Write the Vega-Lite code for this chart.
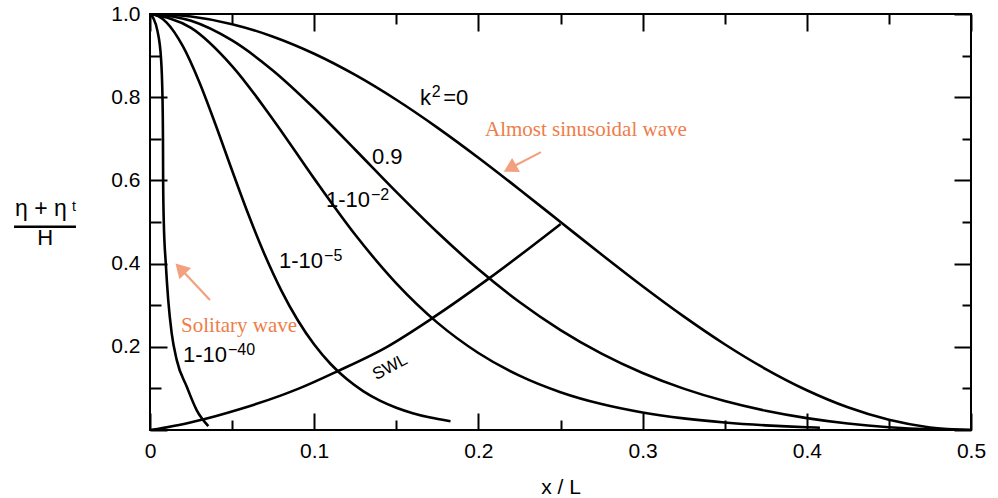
{
  "$schema": "https://vega.github.io/schema/vega-lite/v6.json",
  "autosize": {"type": "none"},
  "width": 821,
  "height": 416,
  "padding": {"left": 150, "top": 14, "right": 27, "bottom": 68},
  "background": "white",
  "config": {
    "view": {"stroke": "black", "strokeWidth": 2},
    "text": {"font": "Liberation Sans"}
  },
  "datasets": {
    "curves": [
      {"curve": "k0", "x": 0, "y": 1}, {"curve": "k0", "x": 0.025, "y": 0.99384}, {"curve": "k0", "x": 0.05, "y": 0.97553}, {"curve": "k0", "x": 0.075, "y": 0.9455}, {"curve": "k0", "x": 0.1, "y": 0.90451}, {"curve": "k0", "x": 0.125, "y": 0.85355}, {"curve": "k0", "x": 0.15, "y": 0.79389}, {"curve": "k0", "x": 0.175, "y": 0.727}, {"curve": "k0", "x": 0.2, "y": 0.65451}, {"curve": "k0", "x": 0.225, "y": 0.57822}, {"curve": "k0", "x": 0.25, "y": 0.5}, {"curve": "k0", "x": 0.275, "y": 0.42178}, {"curve": "k0", "x": 0.3, "y": 0.34549}, {"curve": "k0", "x": 0.325, "y": 0.273}, {"curve": "k0", "x": 0.35, "y": 0.20611}, {"curve": "k0", "x": 0.375, "y": 0.14645}, {"curve": "k0", "x": 0.4, "y": 0.09549}, {"curve": "k0", "x": 0.425, "y": 0.0545}, {"curve": "k0", "x": 0.45, "y": 0.02447}, {"curve": "k0", "x": 0.475, "y": 0.00616}, {"curve": "k0", "x": 0.5, "y": 0},
      {"curve": "k09", "x": 0, "y": 1}, {"curve": "k09", "x": 0.025, "y": 0.98367}, {"curve": "k09", "x": 0.05, "y": 0.93637}, {"curve": "k09", "x": 0.075, "y": 0.86369}, {"curve": "k09", "x": 0.1, "y": 0.77334}, {"curve": "k09", "x": 0.125, "y": 0.67371}, {"curve": "k09", "x": 0.15, "y": 0.57238}, {"curve": "k09", "x": 0.175, "y": 0.47526}, {"curve": "k09", "x": 0.2, "y": 0.38632}, {"curve": "k09", "x": 0.225, "y": 0.30772}, {"curve": "k09", "x": 0.25, "y": 0.24025}, {"curve": "k09", "x": 0.275, "y": 0.18365}, {"curve": "k09", "x": 0.3, "y": 0.13707}, {"curve": "k09", "x": 0.325, "y": 0.09943}, {"curve": "k09", "x": 0.35, "y": 0.06952}, {"curve": "k09", "x": 0.375, "y": 0.04621}, {"curve": "k09", "x": 0.4, "y": 0.02849}, {"curve": "k09", "x": 0.425, "y": 0.01556}, {"curve": "k09", "x": 0.45, "y": 0.00676}, {"curve": "k09", "x": 0.475, "y": 0.00167}, {"curve": "k09", "x": 0.5, "y": 0},
      {"curve": "k099", "x": 0, "y": 1}, {"curve": "k099", "x": 0.025, "y": 0.9666}, {"curve": "k099", "x": 0.05, "y": 0.87495}, {"curve": "k099", "x": 0.075, "y": 0.74603}, {"curve": "k099", "x": 0.1, "y": 0.60427}, {"curve": "k099", "x": 0.125, "y": 0.46935}, {"curve": "k099", "x": 0.15, "y": 0.35259}, {"curve": "k099", "x": 0.175, "y": 0.2581}, {"curve": "k099", "x": 0.2, "y": 0.18515}, {"curve": "k099", "x": 0.225, "y": 0.13066}, {"curve": "k099", "x": 0.25, "y": 0.09091}, {"curve": "k099", "x": 0.275, "y": 0.06239}, {"curve": "k099", "x": 0.3, "y": 0.04216}, {"curve": "k099", "x": 0.325, "y": 0.02794}, {"curve": "k099", "x": 0.35, "y": 0.01804}, {"curve": "k099", "x": 0.375, "y": 0.01118}, {"curve": "k099", "x": 0.4, "y": 0.00651}, {"curve": "k099", "x": 0.408, "y": 0.0055},
      {"curve": "k5", "x": 0, "y": 1}, {"curve": "k5", "x": 0.005, "y": 0.99491}, {"curve": "k5", "x": 0.01, "y": 0.97987}, {"curve": "k5", "x": 0.02, "y": 0.92259}, {"curve": "k5", "x": 0.03, "y": 0.83668}, {"curve": "k5", "x": 0.04, "y": 0.7333}, {"curve": "k5", "x": 0.05, "y": 0.62377}, {"curve": "k5", "x": 0.06, "y": 0.51729}, {"curve": "k5", "x": 0.07, "y": 0.41998}, {"curve": "k5", "x": 0.08, "y": 0.33516}, {"curve": "k5", "x": 0.09, "y": 0.26386}, {"curve": "k5", "x": 0.1, "y": 0.20545}, {"curve": "k5", "x": 0.11, "y": 0.15865}, {"curve": "k5", "x": 0.12, "y": 0.12171}, {"curve": "k5", "x": 0.13, "y": 0.0929}, {"curve": "k5", "x": 0.14, "y": 0.07066}, {"curve": "k5", "x": 0.15, "y": 0.05357}, {"curve": "k5", "x": 0.16, "y": 0.04053}, {"curve": "k5", "x": 0.17, "y": 0.03061}, {"curve": "k5", "x": 0.183, "y": 0.02122},
      {"curve": "k40", "x": 0, "y": 1}, {"curve": "k40", "x": 0.002, "y": 0.99}, {"curve": "k40", "x": 0.0045, "y": 0.96}, {"curve": "k40", "x": 0.0067, "y": 0.894}, {"curve": "k40", "x": 0.0076, "y": 0.8}, {"curve": "k40", "x": 0.0079, "y": 0.7}, {"curve": "k40", "x": 0.008, "y": 0.601}, {"curve": "k40", "x": 0.0084, "y": 0.5}, {"curve": "k40", "x": 0.0096, "y": 0.401}, {"curve": "k40", "x": 0.0111, "y": 0.3125}, {"curve": "k40", "x": 0.0132, "y": 0.233}, {"curve": "k40", "x": 0.0163, "y": 0.168}, {"curve": "k40", "x": 0.0224, "y": 0.104}, {"curve": "k40", "x": 0.0284, "y": 0.048}, {"curve": "k40", "x": 0.0355, "y": 0.0096},
      {"curve": "swl", "x": 0, "y": 0}, {"curve": "swl", "x": 0.00207, "y": 0.001}, {"curve": "swl", "x": 0.015, "y": 0.01}, {"curve": "swl", "x": 0.0276, "y": 0.0211}, {"curve": "swl", "x": 0.0398, "y": 0.0333}, {"curve": "swl", "x": 0.0545, "y": 0.05}, {"curve": "swl", "x": 0.0799, "y": 0.0833}, {"curve": "swl", "x": 0.0909, "y": 0.1}, {"curve": "swl", "x": 0.1143, "y": 0.1415}, {"curve": "swl", "x": 0.1444, "y": 0.2}, {"curve": "swl", "x": 0.1715, "y": 0.2676}, {"curve": "swl", "x": 0.2067, "y": 0.365}, {"curve": "swl", "x": 0.25, "y": 0.495}
    ],
    "curveLabels": [
      {"x": 0.1644, "y": 0.798, "text": "k"},
      {"x": 0.1786, "y": 0.798, "text": "=0"},
      {"x": 0.1352, "y": 0.656, "text": "0.9"},
      {"x": 0.1072, "y": 0.553, "text": "1-10"},
      {"x": 0.0786, "y": 0.406, "text": "1-10"},
      {"x": 0.0201, "y": 0.18, "text": "1-10"}
    ],
    "curveSups": [
      {"x": 0.1716, "y": 0.812, "text": "2"},
      {"x": 0.1346, "y": 0.565, "text": "−2"},
      {"x": 0.106, "y": 0.418, "text": "−5"},
      {"x": 0.0475, "y": 0.192, "text": "−40"}
    ],
    "swlLabel": [{"x": 0.1462, "y": 0.151, "text": "SWL"}],
    "notes": [
      {"x": 0.204, "y": 0.721, "text": "Almost sinusoidal wave"},
      {"x": 0.0189, "y": 0.25, "text": "Solitary wave"}
    ],
    "arrows": [
      {"x": 0.2381, "y": 0.668, "x2": 0.2192, "y2": 0.629, "angle": 241},
      {"x": 0.0365, "y": 0.3125, "x2": 0.0185, "y2": 0.388, "angle": 316}
    ],
    "ytitleTop": [{"x": -0.0822, "y": 0.531, "text": "η + η"}],
    "ytitleT": [{"x": -0.0475, "y": 0.537, "text": "t"}],
    "ytitleH": [{"x": -0.0639, "y": 0.4615, "text": "H"}],
    "ytitleBar": [{"x": -0.0828, "x2": -0.0451, "y": 0.4887}]
  },
  "layer": [
    {
      "data": {"name": "curves"},
      "mark": {"type": "line", "color": "black", "strokeWidth": 2.6, "interpolate": "monotone", "clip": true},
      "encoding": {
        "x": {
          "field": "x", "type": "quantitative",
          "scale": {"domain": [0, 0.5], "nice": false, "zero": false},
          "axis": {
            "orient": "bottom",
            "values": [0, 0.05, 0.1, 0.15, 0.2, 0.25, 0.3, 0.35, 0.4, 0.45, 0.5],
            "domain": false, "grid": false,
            "tickColor": "black", "tickWidth": 2,
            "tickSize": {"condition": {"test": "abs(datum.value*10 - round(datum.value*10)) < 0.001", "value": -17}, "value": -10},
            "labelExpr": "abs(datum.value*10 - round(datum.value*10)) < 0.001 ? (datum.value == 0 ? '0' : format(datum.value, '.1f')) : ''",
            "labelFont": "Liberation Sans", "labelFontSize": 21, "labelColor": "black",
            "labelPadding": 27, "labelFlush": false, "labelOverlap": false,
            "title": "x / L", "titleFont": "Liberation Sans", "titleFontSize": 21, "titleFontWeight": "normal", "titleColor": "black", "titlePadding": 8
          }
        },
        "y": {
          "field": "y", "type": "quantitative",
          "scale": {"domain": [0, 1], "nice": false, "zero": false},
          "axis": {
            "orient": "left",
            "values": [0, 0.1, 0.2, 0.3, 0.4, 0.5, 0.6, 0.7, 0.8, 0.9, 1.0],
            "domain": false, "grid": false,
            "tickColor": "black", "tickWidth": 2,
            "tickSize": {"condition": {"test": "abs(datum.value*5 - round(datum.value*5)) < 0.001", "value": -17}, "value": -11},
            "labelExpr": "(abs(datum.value*5 - round(datum.value*5)) < 0.001 && datum.value > 0) ? format(datum.value, '.1f') : ''",
            "labelFont": "Liberation Sans", "labelFontSize": 21, "labelColor": "black",
            "labelPadding": 27, "labelFlush": false, "labelOverlap": false,
            "title": null
          }
        },
        "detail": {"field": "curve", "type": "nominal"}
      }
    },
    {
      "data": {"name": "curves"},
      "mark": {"type": "point", "opacity": 0},
      "encoding": {
        "x": {
          "field": "x", "type": "quantitative",
          "scale": {"domain": [0, 0.5], "nice": false, "zero": false},
          "axis": {
            "orient": "top",
            "values": [0, 0.05, 0.1, 0.15, 0.2, 0.25, 0.3, 0.35, 0.4, 0.45, 0.5],
            "domain": false, "grid": false, "labels": false, "title": null,
            "tickColor": "black", "tickWidth": 2,
            "tickSize": {"condition": {"test": "abs(datum.value*10 - round(datum.value*10)) < 0.001", "value": -17}, "value": -10}
          }
        },
        "y": {
          "field": "y", "type": "quantitative",
          "scale": {"domain": [0, 1], "nice": false, "zero": false},
          "axis": {
            "orient": "right",
            "values": [0, 0.1, 0.2, 0.3, 0.4, 0.5, 0.6, 0.7, 0.8, 0.9, 1.0],
            "domain": false, "grid": false, "labels": false, "title": null,
            "tickColor": "black", "tickWidth": 2,
            "tickSize": {"condition": {"test": "abs(datum.value*5 - round(datum.value*5)) < 0.001", "value": -17}, "value": -9}
          }
        }
      }
    },
    {
      "data": {"name": "curveLabels"},
      "mark": {"type": "text", "align": "left", "baseline": "middle", "fontSize": 22, "color": "black", "font": "Liberation Sans"},
      "encoding": {
        "x": {"field": "x", "type": "quantitative", "scale": {"domain": [0, 0.5]}, "axis": null},
        "y": {"field": "y", "type": "quantitative", "scale": {"domain": [0, 1]}, "axis": null},
        "text": {"field": "text"}
      }
    },
    {
      "data": {"name": "curveSups"},
      "mark": {"type": "text", "align": "left", "baseline": "middle", "fontSize": 16, "color": "black", "font": "Liberation Sans"},
      "encoding": {
        "x": {"field": "x", "type": "quantitative", "scale": {"domain": [0, 0.5]}, "axis": null},
        "y": {"field": "y", "type": "quantitative", "scale": {"domain": [0, 1]}, "axis": null},
        "text": {"field": "text"}
      }
    },
    {
      "data": {"name": "swlLabel"},
      "mark": {"type": "text", "align": "center", "baseline": "middle", "fontSize": 17, "angle": -28, "color": "black", "font": "Liberation Sans"},
      "encoding": {
        "x": {"field": "x", "type": "quantitative", "scale": {"domain": [0, 0.5]}, "axis": null},
        "y": {"field": "y", "type": "quantitative", "scale": {"domain": [0, 1]}, "axis": null},
        "text": {"field": "text"}
      }
    },
    {
      "data": {"name": "notes"},
      "mark": {"type": "text", "align": "left", "baseline": "middle", "fontSize": 21, "color": "#EE7D4A", "font": "Liberation Serif"},
      "encoding": {
        "x": {"field": "x", "type": "quantitative", "scale": {"domain": [0, 0.5]}, "axis": null},
        "y": {"field": "y", "type": "quantitative", "scale": {"domain": [0, 1]}, "axis": null},
        "text": {"field": "text"}
      }
    },
    {
      "data": {"name": "arrows"},
      "mark": {"type": "rule", "color": "#F2A07E", "strokeWidth": 2.2},
      "encoding": {
        "x": {"field": "x", "type": "quantitative", "scale": {"domain": [0, 0.5]}, "axis": null},
        "y": {"field": "y", "type": "quantitative", "scale": {"domain": [0, 1]}, "axis": null},
        "x2": {"field": "x2"},
        "y2": {"field": "y2"}
      }
    },
    {
      "data": {"name": "arrows"},
      "mark": {"type": "point", "shape": "triangle-up", "filled": true, "color": "#F2A07E", "opacity": 1, "size": 260},
      "encoding": {
        "x": {"field": "x2", "type": "quantitative", "scale": {"domain": [0, 0.5]}, "axis": null},
        "y": {"field": "y2", "type": "quantitative", "scale": {"domain": [0, 1]}, "axis": null},
        "angle": {"field": "angle", "type": "quantitative", "scale": null}
      }
    },
    {
      "data": {"name": "ytitleTop"},
      "mark": {"type": "text", "align": "left", "baseline": "middle", "fontSize": 23, "color": "black", "font": "Liberation Sans"},
      "encoding": {
        "x": {"field": "x", "type": "quantitative", "scale": {"domain": [0, 0.5]}, "axis": null},
        "y": {"field": "y", "type": "quantitative", "scale": {"domain": [0, 1]}, "axis": null},
        "text": {"field": "text"}
      }
    },
    {
      "data": {"name": "ytitleT"},
      "mark": {"type": "text", "align": "left", "baseline": "middle", "fontSize": 14, "color": "black", "font": "Liberation Sans"},
      "encoding": {
        "x": {"field": "x", "type": "quantitative", "scale": {"domain": [0, 0.5]}, "axis": null},
        "y": {"field": "y", "type": "quantitative", "scale": {"domain": [0, 1]}, "axis": null},
        "text": {"field": "text"}
      }
    },
    {
      "data": {"name": "ytitleH"},
      "mark": {"type": "text", "align": "center", "baseline": "middle", "fontSize": 22, "color": "black", "font": "Liberation Sans"},
      "encoding": {
        "x": {"field": "x", "type": "quantitative", "scale": {"domain": [0, 0.5]}, "axis": null},
        "y": {"field": "y", "type": "quantitative", "scale": {"domain": [0, 1]}, "axis": null},
        "text": {"field": "text"}
      }
    },
    {
      "data": {"name": "ytitleBar"},
      "mark": {"type": "rule", "color": "black", "strokeWidth": 2.5},
      "encoding": {
        "x": {"field": "x", "type": "quantitative", "scale": {"domain": [0, 0.5]}, "axis": null},
        "x2": {"field": "x2"},
        "y": {"field": "y", "type": "quantitative", "scale": {"domain": [0, 1]}, "axis": null}
      }
    }
  ],
  "resolve": {"axis": {"x": "independent", "y": "independent"}}
}
